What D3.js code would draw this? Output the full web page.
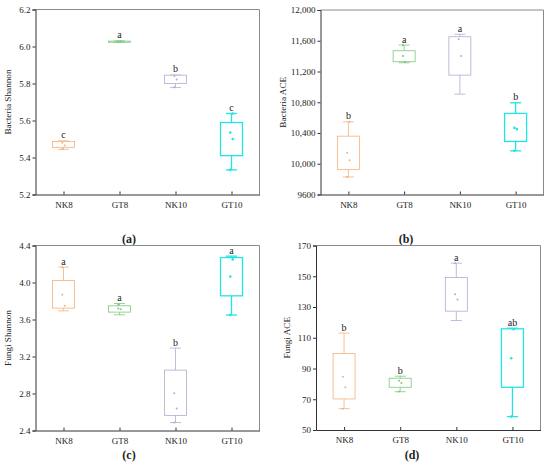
<!DOCTYPE html>
<html>
<head>
<meta charset="utf-8">
<script src="https://d3js.org/d3.v7.min.js"></script>
<style>
  body { margin: 0; background: #fff; }
  svg text { font-family: "Liberation Serif", serif; fill: #222; }
</style>
</head>
<body>
<svg id="chart" width="550" height="469" font-family="Liberation Serif, serif"></svg>
<script>
// groups on every x axis
var groups = ["NK8", "GT8", "NK10", "GT10"];
var colors = ["#f6b07a", "#7cc87c", "#b2aad2", "#22e4e4"];

// box stats per group: [whisker low, q1, q3, whisker high]
var bacShannonBox = [[5.444, 5.455, 5.487, 5.49], [6.022, 6.023, 6.029, 6.031], [5.778, 5.80, 5.845, 5.846], [5.333, 5.41, 5.589, 5.638]];
var bacShannonPts = [[5.48, 5.465, 5.446], [6.024, 6.028, 6.026], [5.84, 5.822, 5.78], [5.535, 5.50, 5.333, 5.638]];
var bacShannonSig = ["c", "a", "b", "c"];
var bacShannonTicks = [5.2, 5.4, 5.6, 5.8, 6.0, 6.2];

var bacAceBox = [[9829, 9926, 10359, 10545], [11314, 11327, 11470, 11544], [10906, 11153, 11652, 11684], [10168, 10290, 10655, 10793]];
var bacAcePts = [[10142, 10047, 9829, 10545], [11401, 11320, 11540], [11620, 11401], [10467, 10450, 10168]];
var bacAceSig = ["b", "a", "a", "b"];
var bacAceTicks = [9600, 10000, 10400, 10800, 11200, 11600, 12000];

var funShannonBox = [[3.694, 3.723, 4.022, 4.166], [3.651, 3.68, 3.748, 3.773], [2.486, 2.562, 3.053, 3.291], [3.648, 3.856, 4.27, 4.285]];
var funShannonPts = [[3.867, 3.748, 4.166], [3.72, 3.71, 3.76], [2.804, 2.638, 2.486], [4.065, 4.25, 3.648]];
var funShannonSig = ["a", "a", "b", "a"];
var funShannonTicks = [2.4, 2.8, 3.2, 3.6, 4.0, 4.4];

var funAceBox = [[63.9, 70.2, 99.7, 113], [74.9, 77.8, 83.7, 85], [121.2, 127.3, 149.2, 158.5], [58.7, 77.8, 115.8, 116.2]];
var funAcePts = [[84.7, 77.8, 63.9], [82.1, 80.5, 75], [138.3, 134.8, 158.5], [96.7, 115.5, 58.7]];
var funAceSig = ["b", "b", "a", "ab"];
var funAceTicks = [50, 70, 90, 110, 130, 150, 170];

var svg = d3.select("#chart");
var serif = "Liberation Serif, serif";

function panel(p) {
  var x = d3.scalePoint().domain(groups).range([p.left, p.right]).padding(0.5);
  var y = d3.scaleLinear().domain([p.ticks[0], p.ticks[p.ticks.length - 1]]).range([p.bottom, p.top]);
  var g = svg.append("g");

  // light top / right frame
  g.append("path")
    .attr("d", "M" + p.left + "," + p.top + "H" + p.right + "V" + p.bottom)
    .attr("fill", "none").attr("stroke", "#8a8a8a").attr("stroke-width", 1);

  var ya = g.append("g").attr("transform", "translate(" + p.left + ",0)")
    .call(d3.axisLeft(y).tickValues(p.ticks).tickFormat(p.fmt).tickSize(3).tickPadding(2));
  var xa = g.append("g").attr("transform", "translate(0," + p.bottom + ")")
    .call(d3.axisBottom(x).tickSize(-3).tickSizeOuter(0).tickPadding(7));
  [ya, xa].forEach(function (a) {
    a.attr("font-family", serif).attr("font-size", 9);
    a.selectAll("path, line").attr("stroke", "#333");
    a.selectAll("text").attr("fill", "#222");
  });

  g.append("text")
    .attr("transform", "translate(" + p.labelX + "," + ((p.top + p.bottom) / 2) + ") rotate(-90)")
    .attr("text-anchor", "middle").attr("dy", "0.35em").attr("font-size", 9.2)
    .text(p.label);

  var bw = 22, cw = 11;
  groups.forEach(function (gr, i) {
    var b = p.box[i], cx = x(gr), c = colors[i];
    var sw = i === 3 ? 1.3 : 0.8;
    var bg = g.append("g").attr("stroke", c).attr("stroke-width", sw).attr("fill", "none");
    bg.append("line").attr("x1", cx).attr("x2", cx).attr("y1", y(b[0])).attr("y2", y(b[1]));
    bg.append("line").attr("x1", cx).attr("x2", cx).attr("y1", y(b[2])).attr("y2", y(b[3]));
    bg.append("line").attr("x1", cx - cw / 2).attr("x2", cx + cw / 2).attr("y1", y(b[0])).attr("y2", y(b[0]));
    bg.append("line").attr("x1", cx - cw / 2).attr("x2", cx + cw / 2).attr("y1", y(b[3])).attr("y2", y(b[3]));
    bg.append("rect").attr("x", cx - bw / 2).attr("width", bw)
      .attr("y", y(b[2])).attr("height", y(b[1]) - y(b[2])).attr("fill", "#fff");

    g.selectAll(null).data(p.pts[i]).enter().append("circle")
      .attr("cx", function (d, j) { return cx + (j % 2 ? 1.2 : -1.2); })
      .attr("cy", function (d) { return y(d); })
      .attr("r", i === 3 ? 1.3 : 1)
      .attr("fill", c);

    g.append("text").attr("x", cx).attr("y", y(b[3]) - 2.5)
      .attr("text-anchor", "middle").attr("font-size", 10).text(p.sig[i]);
  });

  g.append("text").attr("x", p.capX).attr("y", p.capY)
    .attr("text-anchor", "middle").attr("font-size", 12).attr("font-weight", "bold")
    .text(p.cap);
}

var f1 = d3.format(".1f");
panel({ left: 35.5, right: 259.5, top: 9.5, bottom: 194.5, ticks: bacShannonTicks, fmt: f1,
  box: bacShannonBox, pts: bacShannonPts, sig: bacShannonSig, label: "Bacteria Shannon",
  labelX: 7.5, cap: "(a)", capX: 129, capY: 243 });
panel({ left: 320.5, right: 543.5, top: 10, bottom: 194.5, ticks: bacAceTicks,
  fmt: function (d) { return d >= 10000 ? d3.format(",")(d) : String(d); },
  box: bacAceBox, pts: bacAcePts, sig: bacAceSig, label: "Bacteria ACE",
  labelX: 282.5, cap: "(b)", capX: 406, capY: 243 });
panel({ left: 35.5, right: 259.5, top: 245.5, bottom: 430.5, ticks: funShannonTicks, fmt: f1,
  box: funShannonBox, pts: funShannonPts, sig: funShannonSig, label: "Fungi Shannon",
  labelX: 7.5, cap: "(c)", capX: 129, capY: 459 });
panel({ left: 316, right: 540.5, top: 245.5, bottom: 430, ticks: funAceTicks, fmt: d3.format("d"),
  box: funAceBox, pts: funAcePts, sig: funAceSig, label: "Fungi ACE",
  labelX: 286.5, cap: "(d)", capX: 412, capY: 459 });
</script>
</body>
</html>
